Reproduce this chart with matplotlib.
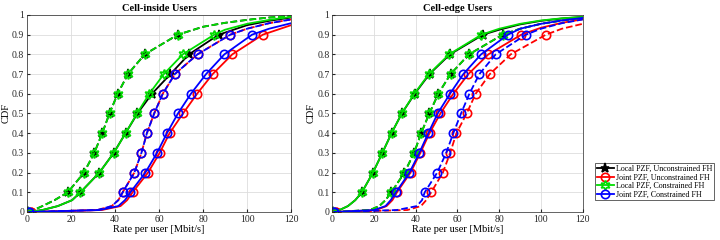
import matplotlib
matplotlib.use("Agg")
import matplotlib.pyplot as plt

cdf_levels = [0, 0.01, 0.03, 0.06, 0.1, 0.2, 0.3, 0.4, 0.5, 0.6, 0.7, 0.8, 0.9]
marker_levels = [0, 0.1, 0.2, 0.3, 0.4, 0.5, 0.6, 0.7, 0.8, 0.9]
# upper tail: cdf read at fixed rates (only rates right of the 0.9 point are used)
tail_rates = [80, 90, 100, 110, 120]

labels = ["Local PZF, Unconstrained FH", "Joint PZF, Unconstrained FH",
          "Local PZF, Constrained FH", "Joint PZF, Constrained FH"]

# Cell-inside users: rates [Mbit/s] at cdf_levels, solid and dashed curves
inside_local_unc = [0.5, 7, 14, 20.5, 24.3, 32.9, 39.4, 44.8, 50.2, 56.8, 65.2, 73.6, 87.2]
inside_local_unc_d = [0.5, 3, 7, 12.5, 18.6, 25.9, 30.6, 34.2, 37.5, 41.2, 45.9, 53.5, 68.6]
inside_joint_unc = [2, 34, 42.5, 45.5, 48, 55, 60.3, 64.8, 70.9, 77.3, 84.4, 93.3, 107.2]
inside_joint_unc_d = [2, 32, 38.5, 41.5, 43.5, 48.8, 52, 54.5, 57.8, 61.7, 67.2, 77.5, 92.4]
inside_local_con = [0.5, 7, 14, 20.5, 24.3, 32.9, 39.5, 44.8, 50, 55.6, 62.2, 70.8, 85.1]
inside_local_con_d = [0.5, 3, 7, 12.5, 18.6, 25.9, 30.6, 34.2, 37.5, 41.2, 45.9, 53.5, 68.6]
inside_joint_con = [1, 33, 41.5, 44.5, 47, 53.8, 59.1, 63.6, 68.6, 74.5, 81.4, 89.7, 102.3]
inside_joint_con_d = [1, 32, 38.5, 41.5, 43.5, 48.8, 52, 54.5, 57.8, 61.7, 67.2, 77.5, 92.4]

inside_tail_local_unc = [0.88, 0.91, 0.948, 0.97, 0.987]
inside_tail_local_unc_d = [0.94, 0.96, 0.975, 0.987, 0.995]
inside_tail_joint_unc = [0.7, 0.8, 0.86, 0.91, 0.948]
inside_tail_joint_unc_d = [0.8, 0.87, 0.93, 0.958, 0.977]
inside_tail_local_con = [0.87, 0.925, 0.955, 0.975, 0.99]
inside_tail_local_con_d = [0.94, 0.96, 0.975, 0.987, 0.995]
inside_tail_joint_con = [0.75, 0.8, 0.89, 0.93, 0.958]
inside_tail_joint_con_d = [0.8, 0.87, 0.93, 0.958, 0.977]

# Cell-edge users
edge_local_unc = [0.5, 3.5, 7.5, 11, 14.2, 19.5, 24, 28.4, 33.3, 39.5, 46.6, 56.4, 72.3]
edge_local_unc_d = [0.5, 18, 22.5, 25.5, 28.3, 34.6, 39.2, 42.6, 46.5, 50.8, 56.7, 65.5, 81.7]
edge_joint_unc = [2, 21, 26, 28.8, 31, 37.5, 42.2, 46.6, 51.8, 58, 65.2, 74.8, 90.6]
edge_joint_unc_d = [2, 36, 42.5, 45, 47.4, 53, 56.5, 59.5, 64.4, 68.7, 75.5, 85.5, 102.4]
edge_local_con = [0.5, 3.5, 7.5, 11, 14.2, 19.5, 24, 28.4, 33.3, 39.3, 46.3, 56, 71.5]
edge_local_con_d = [0.5, 18, 22.5, 25.5, 28.3, 34.6, 39.2, 42.6, 46.5, 50.8, 56.7, 65.5, 81.7]
edge_joint_con = [1, 20, 25.5, 28, 30.5, 37, 41.7, 46, 50.5, 56.4, 62.8, 71.3, 84.2]
edge_joint_con_d = [1, 31, 40.5, 43, 44.3, 50.3, 54.6, 58, 61.7, 65.7, 70.5, 78.3, 92.8]

edge_tail_local_unc = [0.925, 0.952, 0.97, 0.982, 0.99]
edge_tail_local_unc_d = [0.88, 0.93, 0.955, 0.972, 0.985]
edge_tail_joint_unc = [0.85, 0.9, 0.935, 0.96, 0.978]
edge_tail_joint_unc_d = [0.76, 0.83, 0.88, 0.93, 0.955]
edge_tail_local_con = [0.93, 0.955, 0.972, 0.983, 0.99]
edge_tail_local_con_d = [0.88, 0.93, 0.955, 0.972, 0.985]
edge_tail_joint_con = [0.87, 0.93, 0.955, 0.972, 0.985]
edge_tail_joint_con_d = [0.82, 0.88, 0.93, 0.958, 0.977]

colors = ["black", "red", "#00dd00", "blue"]
markers = ["*", "o", (6, 1, 0), "o"]
msizes = [6.5, 6, 7, 6]

plt.rcParams["font.family"] = ["Liberation Serif", "DejaVu Serif"]
plt.rcParams["font.size"] = 7

fig = plt.figure(figsize=(7.2, 2.4), dpi=100)
ax1 = fig.add_axes([0.0375, 0.1167, 0.3667, 0.821])
ax2 = fig.add_axes([0.4615, 0.1167, 0.3478, 0.821])


def draw(ax, curves, tails, title):
    handles = []
    for k in range(4):
        for j, ls in enumerate(["-", "--"]):
            rates = curves[2 * k + j]
            tail = tails[2 * k + j]
            xs = list(rates)
            ys = list(cdf_levels)
            for r, c in zip(tail_rates, tail):
                if r > rates[-1] + 3:
                    xs.append(r)
                    ys.append(c)
            ax.plot(xs, ys, color=colors[k], ls=ls, lw=1.3)
            mx = [rates[cdf_levels.index(l)] for l in marker_levels]
            face = colors[k] if k == 0 else "none"
            ax.plot(mx, marker_levels, ls="none", marker=markers[k], ms=msizes[k],
                    mfc=face, mec=colors[k], mew=1.2)
        h, = ax.plot([], [], color=colors[k], lw=1.3, marker=markers[k],
                     ms=msizes[k], mfc=colors[k] if k == 0 else "none", mec=colors[k], mew=1.2)
        handles.append(h)
    ax.set_xlim(0, 120)
    ax.set_ylim(0, 1)
    ax.set_xticks(range(0, 121, 20))
    ax.set_yticks([i / 10 for i in range(11)])
    ax.set_yticklabels(["0"] + ["%.1f" % (i / 10) for i in range(1, 10)] + ["1"])
    ax.grid(True, color="#dddddd", lw=0.6)
    ax.set_axisbelow(True)
    ax.tick_params(direction="in", length=2, pad=2, colors="#262626", labelsize=7)
    for s in ax.spines.values():
        s.set_color("#262626")
        s.set_linewidth(0.5)
    ax.set_title(title, fontweight="bold", fontsize=7.5, pad=3)
    ax.set_xlabel("Rate per user [Mbit/s]", fontsize=7.5, labelpad=1)
    ax.set_ylabel("CDF", fontsize=7.5, labelpad=1)
    return handles


inside = [inside_local_unc, inside_local_unc_d, inside_joint_unc, inside_joint_unc_d,
          inside_local_con, inside_local_con_d, inside_joint_con, inside_joint_con_d]
inside_tails = [inside_tail_local_unc, inside_tail_local_unc_d, inside_tail_joint_unc,
                inside_tail_joint_unc_d, inside_tail_local_con, inside_tail_local_con_d,
                inside_tail_joint_con, inside_tail_joint_con_d]
edge = [edge_local_unc, edge_local_unc_d, edge_joint_unc, edge_joint_unc_d,
        edge_local_con, edge_local_con_d, edge_joint_con, edge_joint_con_d]
edge_tails = [edge_tail_local_unc, edge_tail_local_unc_d, edge_tail_joint_unc,
              edge_tail_joint_unc_d, edge_tail_local_con, edge_tail_local_con_d,
              edge_tail_joint_con, edge_tail_joint_con_d]

draw(ax1, inside, inside_tails, "Cell-inside Users")
hs = draw(ax2, edge, edge_tails, "Cell-edge Users")

leg = fig.legend(hs, labels, loc="lower left", bbox_to_anchor=(0.826, 0.165),
                 fontsize=5.8, frameon=True, fancybox=False, framealpha=1,
                 handlelength=2.1, borderpad=0.25, labelspacing=0.05, handletextpad=0.3,
                 borderaxespad=0)
leg.get_frame().set_edgecolor("#262626")
leg.get_frame().set_linewidth(0.5)

fig.savefig("out.png", dpi=100)
